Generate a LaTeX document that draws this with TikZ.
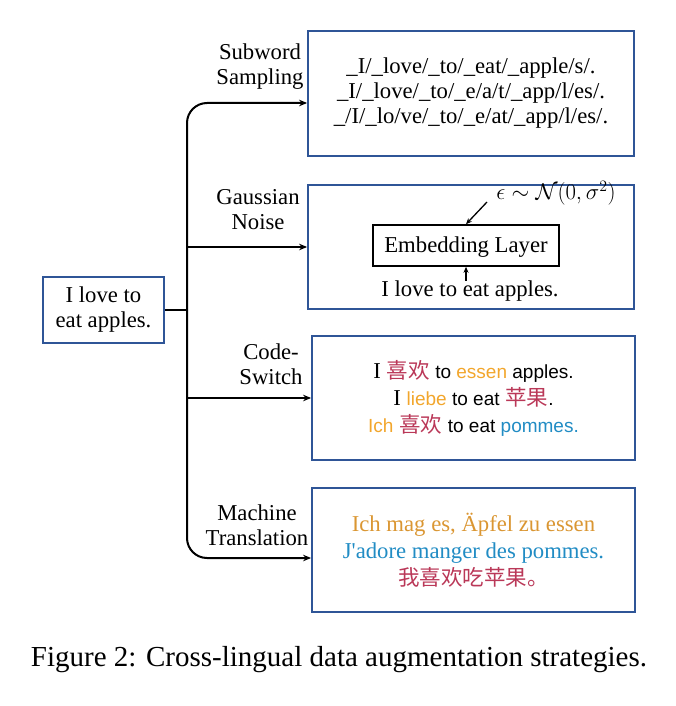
\RequirePackage{fix-cm}
\documentclass[tikz,border=0pt]{standalone}
\usepackage{fontspec}
\setmainfont{Liberation Serif}
\newfontfamily\arialf{Liberation Sans}
\newfontfamily\cjkf{Noto Sans CJK SC}
\usetikzlibrary{arrows.meta,calc}
\definecolor{bblue}{RGB}{47,85,151}
\definecolor{corg}{RGB}{242,166,44}
\definecolor{morg}{RGB}{218,150,50}
\definecolor{cred}{RGB}{186,56,88}
\definecolor{cblu}{RGB}{33,140,196}
\newcommand\ZH[1]{{\cjkf\fontsize{21.5}{27}\selectfont\color{cred}#1}}
\newcommand\AR[1]{{\arialf\fontsize{19}{27}\selectfont #1}}
\begin{document}
\begin{tikzpicture}[x=1pt,y=-1pt,
  every node/.style={font=\fontsize{22.7}{25}\selectfont, inner sep=0pt},
  outerbox/.style={draw=bblue, line width=1.8pt, rectangle, inner sep=0pt, align=center},
  conn/.style={line width=2pt, black},
  arr/.style={conn, -{Stealth[length=8pt,width=6.5pt]}},
  inarr/.style={line width=1.3pt, black, -{Stealth[length=6pt,width=5pt]}},
  lbl/.style={align=center}]
\useasboundingbox (0,0) rectangle (676,706);
% source
\node[outerbox, minimum width=121pt, minimum height=66pt] (src) at (103.5,310) {I love to\\eat apples.};
% boxes
\node[outerbox, minimum width=326pt, minimum height=125pt] (b1) at (471,93.5)
  {\rule{0pt}{4pt}\_I/\_love/\_to/\_eat/\_apple/s/.\\\_I/\_love/\_to/\_e/a/t/\_app/l/es/.\\\_/I/\_lo/ve/\_to/\_e/at/\_app/l/es/.};
\node[outerbox, minimum width=326pt, minimum height=124pt] (b2) at (471,247) {};
\node[outerbox, minimum width=323pt, minimum height=124pt, font=\fontsize{22.7}{27}\selectfont] (b3) at (473.5,398)
  {I \ZH{喜欢} \AR{to \textcolor{corg}{essen} apples.}\\
   I \AR{\textcolor{corg}{liebe} to eat} \ZH{苹果}\AR{.}\\
   \AR{\textcolor{corg}{Ich}} \ZH{喜欢} \AR{to eat \textcolor{cblu}{pommes.}}};
\node[outerbox, minimum width=323pt, minimum height=124pt, font=\fontsize{22.7}{27}\selectfont] (b4) at (473.5,550)
  {\textcolor{morg}{Ich mag es, Äpfel zu essen}\\
   \textcolor{cblu}{J\textquotesingle adore manger des pommes.}\\
   \ZH{我喜欢吃苹果。}};
% box 2 content
\node[draw, line width=1.6pt, minimum width=186pt, minimum height=41pt, text height=15pt, text depth=2pt] (emb) at (466,245.5) {Embedding Layer};
\node (eps) at (556,193) {$\epsilon\sim\mathcal{N}(0,\sigma^2)$};
\node (inp) at (470,291) {I love to eat apples.};
\coordinate (et) at (487,202);
\draw[inarr] (et) -- (emb.north);
\draw[inarr] (inp.north -| emb.south) -- (emb.south);
% labels
\node[lbl] (l1) at (260,67) {Subword\\Sampling};
\node[lbl] (l2) at (258,210) {Gaussian\\Noise};
\node[lbl] (l3) at (271,364) {Code-\\Switch};
\node[lbl] (l4) at (257,525) {Machine\\Translation};
% connectors
\coordinate (j) at (187,310);
\coordinate (y1) at (0,103);
\coordinate (y4) at (0,558);
\draw[conn] (src.east) -- (src.east -| j);
\draw[arr, rounded corners=20pt] (j) |- (b1.west |- y1);
\draw[arr] (j |- b2.west) -- (b2.west);
\draw[arr] (j |- b3.west) -- (b3.west);
\draw[arr, rounded corners=20pt] (j) |- (b4.west |- y4);
% caption
\node (cap) at (339,660) {\fontsize{29}{32}\selectfont Figure 2: Cross-lingual data augmentation strategies.};
\end{tikzpicture}
\end{document}
